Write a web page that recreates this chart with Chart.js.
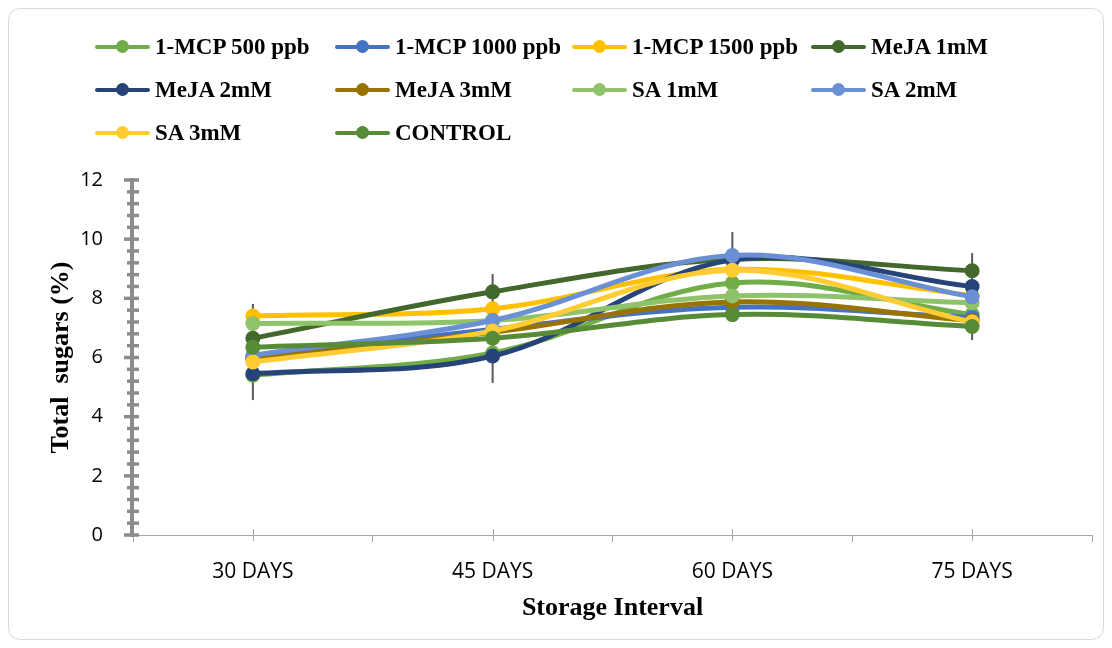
<!DOCTYPE html>
<html>
<head>
<meta charset="utf-8">
<script src="https://cdn.jsdelivr.net/npm/chart.js@4/dist/chart.umd.min.js"></script>
<style>
  body { margin: 0; background: #fff; }
  #wrap { position: relative; width: 1112px; height: 648px; }
  #frame { position: absolute; left: 8px; top: 8px; width: 1094px; height: 630px; border: 1px solid #d9d9d9; border-radius: 12px; }
  #chart { position: absolute; left: 0; top: 0; }
  #legend { position: absolute; left: 95px; top: 25px; display: grid; grid-template-columns: 240px 237px 239px 240px; row-gap: 0; font: bold 23px "Liberation Serif", serif; color: #000; }
  .item { display: flex; align-items: center; height: 43px; white-space: nowrap; }
  .mark { position: relative; width: 55px; height: 14px; margin-right: 5px; flex: none; }
  .mark .ln { position: absolute; left: 0; right: 0; top: 5px; height: 4px; border-radius: 2px; }
  .mark .dot { position: absolute; left: 21px; top: 0; width: 13px; height: 13px; border-radius: 50%; }
</style>
</head>
<body>
<div id="wrap">
  <div id="frame"></div>
  <canvas id="chart" width="1112" height="648"></canvas>
  <div id="legend"></div>
</div>
<script>
// storage intervals
const intervals = ['30 DAYS', '45 DAYS', '60 DAYS', '75 DAYS'];

// total sugars (%) per treatment
const mcp500   = [5.40, 6.15, 8.52, 7.45];
const mcp1000  = [6.00, 6.95, 7.70, 7.35];
const mcp1500  = [7.40, 7.65, 8.98, 8.10];
const meja1    = [6.65, 8.22, 9.32, 8.93];
const meja2    = [5.45, 6.05, 9.30, 8.40];
const meja3    = [5.95, 6.85, 7.88, 7.25];
const sa1      = [7.15, 7.25, 8.08, 7.85];
const sa2      = [6.08, 7.25, 9.45, 8.05];
const sa3      = [5.85, 6.90, 8.95, 7.20];
const control  = [6.35, 6.65, 7.45, 7.05];

// error bar ends
const errHigh = [7.81, 8.82, 10.24, 9.53];
const errLow  = [4.56, 5.14, 8.70, 6.59];

const yTicks = [0, 2, 4, 6, 8, 10, 12];

const seriesNames  = ['1-MCP 500 ppb', '1-MCP 1000 ppb', '1-MCP 1500 ppb', 'MeJA 1mM', 'MeJA 2mM', 'MeJA 3mM', 'SA 1mM', 'SA 2mM', 'SA 3mM', 'CONTROL'];
const seriesValues = [mcp500, mcp1000, mcp1500, meja1, meja2, meja3, sa1, sa2, sa3, control];
const seriesColors = ['#70AD47', '#4472C4', '#FFC000', '#43682B', '#264478', '#997300', '#8FC36A', '#6A8FD4', '#FFCD33', '#588B38'];

// html legend, 4 columns like the excel one
const legendEl = document.getElementById('legend');
seriesNames.forEach((name, i) => {
    legendEl.innerHTML += `
        <div class="item">
            <div class="mark"><div class="ln" style="background:${seriesColors[i]}"></div><div class="dot" style="background:${seriesColors[i]}"></div></div>
            <span>${name}</span>
        </div>`;
});

// error bars + excel style axes (thick y axis with minor ticks)
const axesPlugin = {
    id: 'axesPlugin',
    beforeDatasetsDraw(chart) {
        const ctx = chart.ctx;
        const x = chart.scales.x, y = chart.scales.y;
        ctx.save();
        ctx.strokeStyle = '#595959';
        ctx.lineWidth = 2;
        intervals.forEach((_, i) => {
            const px = x.getPixelForValue(i);
            ctx.beginPath();
            ctx.moveTo(px, y.getPixelForValue(errHigh[i]));
            ctx.lineTo(px, y.getPixelForValue(errLow[i]));
            ctx.stroke();
        });
        ctx.restore();
    },
    afterDraw(chart) {
        const ctx = chart.ctx;
        const x = chart.scales.x, y = chart.scales.y;
        const ax = x.left - 1;
        ctx.save();
        // category centre ticks on the x axis
        ctx.strokeStyle = '#a6a6a6';
        ctx.lineWidth = 1;
        intervals.forEach((_, i) => {
            const px = Math.round(x.getPixelForValue(i)) + 0.5;
            ctx.beginPath();
            ctx.moveTo(px, y.bottom - 6);
            ctx.lineTo(px, y.bottom + 6);
            ctx.stroke();
        });
        // y axis
        ctx.strokeStyle = '#8c8c8c';
        ctx.lineWidth = 4;
        ctx.beginPath();
        ctx.moveTo(ax, y.top - 2);
        ctx.lineTo(ax, y.bottom + 2);
        ctx.stroke();
        ctx.lineWidth = 3.5;
        for (let k = 0; k <= 30; k++) {
            const v = k * 0.4;
            const py = y.getPixelForValue(v);
            const major = k % 5 === 0;
            ctx.beginPath();
            ctx.moveTo(ax - (major ? 8 : 5), py);
            ctx.lineTo(ax + 7, py);
            ctx.stroke();
        }
        ctx.restore();
    }
};

new Chart(document.getElementById('chart'), {
    type: 'line',
    data: {
        labels: intervals,
        datasets: seriesNames.map((name, i) => ({
            label: name,
            data: seriesValues[i],
            borderColor: seriesColors[i],
            backgroundColor: seriesColors[i],
            borderWidth: 5,
            pointRadius: 7.5,
            pointBorderWidth: 0,
            tension: 0.35,
            order: seriesNames.length - i
        }))
    },
    options: {
        responsive: false,
        animation: false,
        devicePixelRatio: 1,
        layout: { padding: { top: 180, right: 20, left: 0, bottom: 0 } },
        plugins: { legend: { display: false }, tooltip: { enabled: false } },
        scales: {
            x: {
                offset: true,
                afterFit: (s) => { s.height = 113; },
                grid: { drawOnChartArea: false, offset: true, tickLength: 7, color: '#a6a6a6' },
                border: { color: '#a6a6a6', width: 1 },
                ticks: { color: '#000', padding: 17, font: { family: 'Open Sans', size: 21 } },
                title: { display: true, text: 'Storage Interval', color: '#000', padding: { top: 0, bottom: 24 }, font: { family: 'Liberation Serif', size: 26, weight: 'bold' } }
            },
            y: {
                min: 0,
                max: 12,
                afterFit: (s) => { s.width = 133; },
                afterBuildTicks: (s) => { s.ticks = yTicks.map(v => ({ value: v })); },
                grid: { display: false },
                border: { display: false },
                ticks: { color: '#000', padding: 22, font: { family: 'Open Sans', size: 20 } },
                title: { display: true, text: 'Total  sugars (%)', color: '#000', padding: { top: 46, bottom: 0 }, font: { family: 'Liberation Serif', size: 26, weight: 'bold' } }
            }
        }
    },
    plugins: [axesPlugin]
});
</script>
</body>
</html>
